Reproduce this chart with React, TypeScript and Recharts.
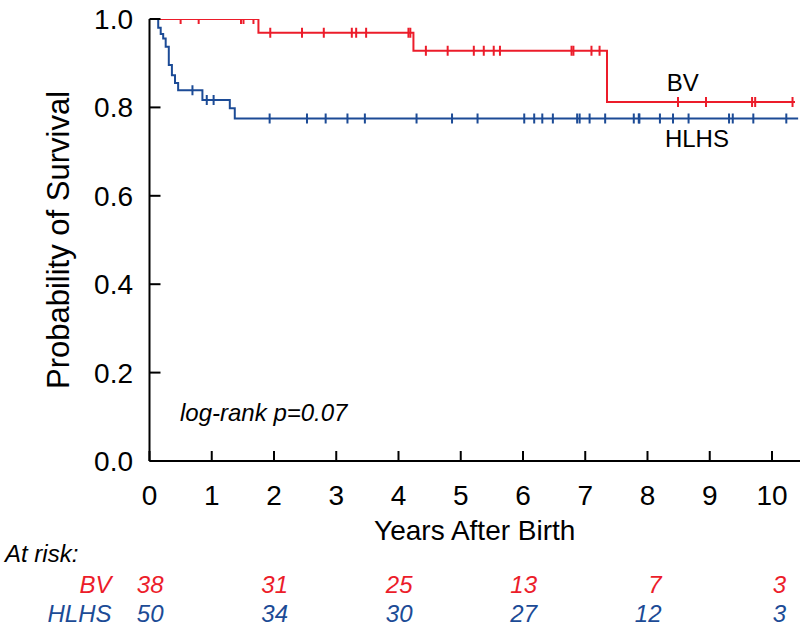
import { ComposedChart, Line, Scatter, XAxis, YAxis, ReferenceDot } from 'recharts';

const FONT = '"Liberation Sans", Arial, Helvetica, sans-serif';
const RED = '#ec1c2a';
const BLUE = '#1c4b96';

// Kaplan-Meier step curves (time in years, survival probability)
const bvTimes = [0, 1.75, 4.24, 7.35, 10.37];
const bvSurvival = [1.0, 0.969, 0.928, 0.812, 0.812];
const bvCensored = [
  0.5, 0.79, 1.47, 1.51, 1.67, 1.94, 2.45, 2.8, 3.25, 3.32, 3.48, 4.16, 4.19, 4.44, 4.79, 5.21, 5.37,
  5.53, 5.63, 6.78, 6.81, 7.1, 7.23, 8.49, 8.94, 9.68, 9.73, 10.33,
];

const hlhsTimes = [0, 0.14, 0.18, 0.22, 0.26, 0.31, 0.36, 0.41, 0.46, 0.85, 1.29, 1.37, 10.42];
const hlhsSurvival = [1.0, 0.98, 0.966, 0.956, 0.937, 0.896, 0.873, 0.855, 0.839, 0.817, 0.798, 0.775, 0.775];
const hlhsCensored = [
  0.69, 0.92, 1.03, 1.93, 2.53, 2.83, 3.18, 3.46, 4.29, 4.86, 5.27, 6.02, 6.18, 6.31, 6.48, 6.87, 6.91,
  7.07, 7.32, 7.78, 7.86, 7.87, 8.2, 8.41, 8.66, 9.31, 9.37, 9.7, 10.23,
];

const xTicks = [0, 1, 2, 3, 4, 5, 6, 7, 8, 9, 10];
const yTicks = [0, 0.2, 0.4, 0.6, 0.8, 1.0];

const atRiskYears = [0, 2, 4, 6, 8, 10];
const bvAtRisk = [38, 31, 25, 13, 7, 3];
const hlhsAtRisk = [50, 34, 30, 27, 12, 3];

const levelAt = (times: number[], surv: number[], t: number) => {
  let s = surv[0];
  times.forEach((tt, i) => {
    if (tt <= t) s = surv[i];
  });
  return s;
};

const bvCurve = bvTimes.map((t, i) => ({ t, s: bvSurvival[i] }));
const hlhsCurve = hlhsTimes.map((t, i) => ({ t, s: hlhsSurvival[i] }));
const bvMarks = bvCensored.map((t) => ({ t, s: levelAt(bvTimes, bvSurvival, t) }));
const hlhsMarks = hlhsCensored.map((t) => ({ t, s: levelAt(hlhsTimes, hlhsSurvival, t) }));

const censorShape = (color: string) => (props: any) => (
  <line x1={props.cx} x2={props.cx} y1={props.cy - 5} y2={props.cy + 5} stroke={color} strokeWidth={2} />
);

function XTick(props: any) {
  const { x, y, payload } = props;
  const v = payload.value;
  const i = atRiskYears.indexOf(v);
  return (
    <g fontFamily={FONT}>
      <text x={x} y={y + 44} textAnchor="middle" fontSize={28} fill="#000">
        {v}
      </text>
      {i >= 0 && (
        <>
          <text x={x + 14} y={y + 132} textAnchor="end" fontSize={24} fontStyle="italic" fill={RED}>
            {bvAtRisk[i]}
          </text>
          <text x={x + 14} y={y + 161} textAnchor="end" fontSize={24} fontStyle="italic" fill={BLUE}>
            {hlhsAtRisk[i]}
          </text>
        </>
      )}
      {v === 0 && (
        <>
          <text x={x - 38} y={y + 132} textAnchor="end" fontSize={24} fontStyle="italic" fill={RED}>
            BV
          </text>
          <text x={x - 38} y={y + 161} textAnchor="end" fontSize={24} fontStyle="italic" fill={BLUE}>
            HLHS
          </text>
        </>
      )}
    </g>
  );
}

function XLabel(props: any) {
  const { x, y, width } = props.viewBox;
  return (
    <g fontFamily={FONT}>
      <text x={x + width / 2} y={y + 79} textAnchor="middle" fontSize={28} fill="#000">
        Years After Birth
      </text>
      <text x={5} y={y + 101} fontSize={24} fontStyle="italic" fill="#000">
        At risk:
      </text>
    </g>
  );
}

function YLabel() {
  return (
    <text
      x={69}
      y={240}
      transform="rotate(-90, 69, 240)"
      textAnchor="middle"
      fontSize={31}
      fontFamily={FONT}
      fill="#000"
    >
      Probability of Survival
    </text>
  );
}

const note = (text: string, size: number, italic = false) => (props: any) => (
  <text
    x={props.viewBox.x}
    y={props.viewBox.y}
    fontSize={size}
    fontStyle={italic ? 'italic' : 'normal'}
    fontFamily={FONT}
    fill="#000"
  >
    {text}
  </text>
);

export default function App() {
  return (
    <div style={{ position: 'absolute', left: 0, top: 0, background: '#fff' }}>
      <ComposedChart width={800} height={627} margin={{ top: 19, right: 0, bottom: 0, left: 0 }}>
        <XAxis
          dataKey="t"
          type="number"
          domain={[0, 10.45]}
          allowDataOverflow
          ticks={xTicks}
          interval={0}
          height={166}
          tickSize={-10}
          tickMargin={10}
          axisLine={{ stroke: '#000', strokeWidth: 2 }}
          tickLine={{ stroke: '#000', strokeWidth: 2 }}
          tick={<XTick />}
          label={{ content: XLabel }}
        />
        <YAxis
          type="number"
          domain={[0, 1]}
          allowDataOverflow
          ticks={yTicks}
          interval={0}
          width={149.5}
          tickSize={-11}
          tickMargin={27.5}
          tickFormatter={(v: number) => v.toFixed(1)}
          axisLine={{ stroke: '#000', strokeWidth: 2 }}
          tickLine={{ stroke: '#000', strokeWidth: 2 }}
          tick={{ fill: '#000', fontSize: 28, fontFamily: FONT }}
          label={{ content: YLabel }}
        />
        <Line
          data={bvCurve}
          dataKey="s"
          type="stepAfter"
          stroke={RED}
          strokeWidth={2}
          dot={false}
          activeDot={false}
          isAnimationActive={false}
        />
        <Line
          data={hlhsCurve}
          dataKey="s"
          type="stepAfter"
          stroke={BLUE}
          strokeWidth={2}
          dot={false}
          activeDot={false}
          isAnimationActive={false}
        />
        <Scatter data={bvMarks} dataKey="s" shape={censorShape(RED)} isAnimationActive={false} />
        <Scatter data={hlhsMarks} dataKey="s" shape={censorShape(BLUE)} isAnimationActive={false} />
        <ReferenceDot x={8.31} y={0.837} r={0} label={{ content: note('BV', 24) }} />
        <ReferenceDot x={8.28} y={0.71} r={0} label={{ content: note('HLHS', 24) }} />
        <ReferenceDot x={0.49} y={0.09} r={0} label={{ content: note('log-rank p=0.07', 24, true) }} />
      </ComposedChart>
    </div>
  );
}
